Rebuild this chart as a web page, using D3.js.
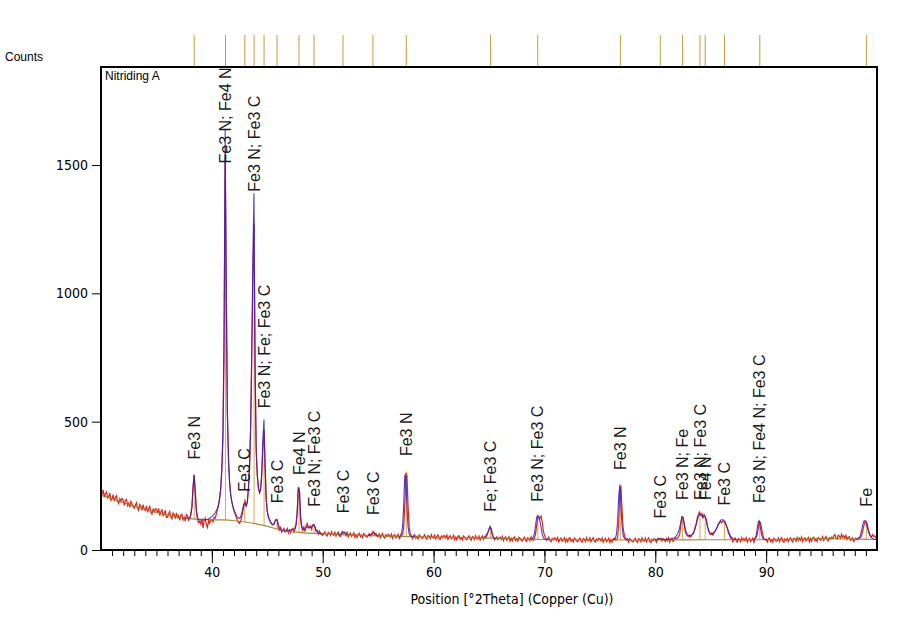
<!DOCTYPE html>
<html><head><meta charset="utf-8">
<script src="https://cdn.jsdelivr.net/npm/d3@7"></script>
<style>body{margin:0;background:#fff}</style>
</head><body><svg id="c" width="921" height="642"></svg>
<script>
// ---------------- DATA ----------------
const xStart = 30, xStep = 0.1;
// Observed counts, 30.0 .. 100.0 in 0.1 deg steps
const observed = [
234,217,234,205,220,226,203,209,222,193,
199,216,190,205,212,189,181,200,189,201,
194,174,194,197,173,183,166,189,180,167,
163,175,184,164,154,177,171,154,177,159,
154,172,147,162,170,147,140,159,149,161,
160,144,162,134,149,156,134,141,155,127,
128,141,150,130,121,144,138,122,145,127,
134,115,136,140,117,128,112,138,134,116,
122,141,168,245,294,228,150,118,106,112,
101,122,86,113,124,99,88,115,104,119,
116,109,127,124,140,155,172,200,240,310,
430,760,1540,1000,540,370,265,215,188,168,
152,140,128,115,108,104,112,130,150,178,
190,170,185,240,320,480,760,1050,1270,700,
380,290,245,222,232,290,400,465,330,200,
150,128,120,110,104,98,100,112,120,118,
86,77,88,70,78,84,70,76,84,66,
78,67,80,84,70,80,100,150,240,230,
120,88,76,90,72,96,104,86,92,94,
80,98,100,90,74,77,62,74,66,60,
56,65,71,59,54,69,66,57,72,61,
57,69,54,64,70,56,52,68,72,66,
65,56,68,51,61,66,53,58,67,50,
60,49,62,65,51,58,48,64,59,52,
49,58,64,55,62,70,72,60,65,54,
51,63,48,58,64,50,46,59,53,61,
59,50,62,45,55,60,47,52,61,44,
49,58,60,85,170,300,290,170,90,62,
55,44,57,60,46,53,43,59,54,47,
44,53,59,47,42,57,54,45,60,49,
46,58,43,53,59,45,41,54,48,56,
55,46,58,41,51,56,43,48,57,40,
51,40,53,56,42,49,39,55,50,43,
40,49,55,43,38,53,50,41,56,45,
42,54,39,49,55,41,52,55,62,70,
80,90,84,64,50,39,46,51,40,47,
50,41,53,36,46,51,38,43,52,35,
46,35,48,51,37,44,34,50,45,38,
35,44,50,38,33,48,45,36,51,40,
38,47,62,95,125,130,122,132,110,75,
58,47,38,44,50,36,32,45,39,47,
46,37,49,32,42,47,34,39,48,31,
43,32,45,48,34,41,31,47,42,35,
32,41,47,35,30,45,42,33,48,37,
35,47,32,42,48,34,30,43,37,45,
44,35,47,30,40,45,32,37,46,29,
41,30,43,46,38,40,48,100,230,250,
160,85,60,46,39,44,31,45,40,33,
31,40,46,34,29,44,41,32,47,36,
34,46,31,41,47,33,29,42,36,44,
41,30,43,46,44,45,35,45,40,33,
45,36,48,31,41,46,33,38,47,44,
46,52,60,95,128,125,100,75,60,55,
52,58,50,60,62,72,90,104,128,140,
148,136,142,126,138,130,120,92,78,64,
60,67,58,70,74,82,88,102,104,112,
106,113,110,108,94,84,66,58,46,48,
32,41,47,35,30,45,42,33,48,37,
45,36,48,31,41,46,33,38,47,30,
43,50,60,85,112,105,80,58,44,41,
42,31,44,47,33,40,30,46,41,34,
35,47,32,42,48,34,30,43,37,45,
33,42,48,36,31,46,43,34,49,38,
47,38,50,33,43,48,35,40,49,32,
45,34,47,50,36,43,33,49,44,37,
40,52,37,47,53,39,35,48,42,50,
45,54,60,48,43,58,55,46,61,50,
56,47,57,41,49,52,38,41,48,33,
39,47,40,44,49,48,55,70,92,108,
112,104,85,68,55,50,60,52,56,47,
46
];

// Calculated profile segments (start angle, values every 0.1 deg)
const calcStarts = [37.6, 51.4, 54.1, 56.9, 64.6, 68.8, 76.2, 80.0, 88.8, 98.2];
const calcValues = [
 [126,125,124,124,
  126,135,165,240,292,235,160,128,119,117,
  117,117,117,118,118,119,120,122,124,127,
  130,134,139,145,153,163,178,200,240,320,
  470,850,1640,1050,520,340,260,215,188,170,
  156,145,136,128,124,124,130,145,165,180,
  178,172,190,240,330,480,780,1150,1390,720,
  400,290,240,225,240,300,430,508,340,200,
  150,128,115,106,100,98,102,112,118,114,
  100,88,80,77,75,74,74,74,75,76,
  77,78,79,80,82,86,100,150,245,235,
  140,95,82,80,82,88,92,88,86,88,
  90,95,98,90,78,71,67,65,64,63,
  63],
 [60,60,61,63,66,69,70,67,63,60],
 [56,57,59,62,65,66,63,59,57,56],
 [52,55,65,88,170,290,285,165,90,62,55,53,52,51,51],
 [46,48,54,66,82,92,78,58,48,45,44,44],
 [42,44,50,65,95,128,135,125,112,88,62,48,43,42,41,41,40],
 [40,42,46,62,110,210,255,175,95,58,46,42,41,40,40],
 [39,40,41,42,43,43,42,41,41,41,
  41,41,42,42,43,44,45,47,50,55,
  62,72,88,108,130,128,108,84,68,60,
  56,55,56,59,64,72,84,100,118,132,
  140,138,132,128,132,130,115,95,78,68,
  63,62,64,68,74,82,92,102,110,116,
  118,118,115,108,98,86,74,62,53,47,
  44,42,41,41,40,40],
 [41,42,46,58,85,112,108,82,58,46,42,41,40,40],
 [42,44,48,58,75,95,112,115,108,92,75,62,54,48,45,43,42,41,40]
];

// Background curve points [2Theta, counts]
const bgTheta  = [30, 32, 34, 36, 38, 39, 40, 41, 42, 43, 44, 45, 46, 47, 48, 50, 52, 55, 60, 65, 70, 75, 80, 85, 90, 95, 100];
const bgCounts = [214,185,158,136,122,119,118,117,114,109,102, 92, 80, 72, 68, 63, 59, 55, 50, 46, 41, 39, 39, 40, 40, 44, 41];

// Reference peak positions, phase labels, stick heights and label levels
const refPos = [38.41, 41.23, 42.97, 43.81, 44.71, 45.88, 47.86, 49.22, 51.83, 54.53, 57.54,
                65.14, 69.40, 76.85, 80.45, 82.46, 84.03, 84.50, 86.24, 89.43, 99.04];
const refLabels = ["Fe3 N", "Fe3 N; Fe4 N", "Fe3 C", "Fe3 N; Fe3 C", "Fe3 N; Fe; Fe3 C", "Fe3 C",
                   "Fe4 N", "Fe3 N; Fe3 C", "Fe3 C", "Fe3 C", "Fe3 N", "Fe; Fe3 C", "Fe3 N; Fe3 C",
                   "Fe3 N", "Fe3 C", "Fe3 N; Fe", "Fe3 N; Fe3 C", "Fe4 N", "Fe3 C",
                   "Fe3 N; Fe4 N; Fe3 C", "Fe"];
const stickCounts = [280, 1560, 200, 1285, 467, 115, 245, 95, 66, 64, 305,
                     88, 130, 250, 45, 130, 140, 128, 112, 112, 112];
const labelCounts = [353, 1506, 227, 1396, 552, 182, 292, 169, 143, 136, 366,
                     149, 188, 312, 123, 195, 195, 195, 173, 183, 169];

const xTickMajor = [40, 50, 60, 70, 80, 90];
const yTickValues = [0, 500, 1000, 1500];
const xTitle = "Position [°2Theta] (Copper (Cu))";
const yTitle = "Counts";
const sampleName = "Nitriding A";

// ---------------- CHART ----------------
const svg = d3.select("#c");
const L = 101, R = 877, T = 67, B = 550;
const x = d3.scaleLinear().domain([30, 100]).range([L, R]);
const y = d3.scaleLinear().domain([0, 1882]).range([B, T]);
const numFont = "'Liberation Sans Narrow','Arial Narrow','DejaVu Sans Condensed',sans-serif";
const txtFont = "'Liberation Sans',Arial,sans-serif";

svg.append("rect").attr("width", 921).attr("height", 642).attr("fill", "#fff");

const obsPts = observed.map((v, i) => [xStart + i * xStep, v]);
const line = d3.line().x(d => x(d[0])).y(d => y(d[1]));

const bgInterp = t => {
  const i = d3.bisectRight(bgTheta, t) - 1;
  const j = Math.min(i + 1, bgTheta.length - 1);
  const f = j === i ? 0 : (t - bgTheta[i]) / (bgTheta[j] - bgTheta[i]);
  return bgCounts[i] + f * (bgCounts[j] - bgCounts[i]);
};

// sticks in plot
svg.append("g").selectAll("line").data(refPos).join("line")
  .attr("x1", d => x(d)).attr("x2", d => x(d))
  .attr("y1", d => y(bgInterp(d))).attr("y2", (d, i) => y(stickCounts[i]))
  .attr("stroke", "#e0a850").attr("stroke-width", 1);

// observed
svg.append("path").datum(obsPts).attr("d", line)
  .attr("fill", "none").attr("stroke", "#e0261a").attr("stroke-width", 1.2);

// background (drawn over the noisy data)
svg.append("path")
  .datum(bgTheta.map((t, i) => [t, bgCounts[i]]))
  .attr("d", d3.line().x(d => x(d[0])).y(d => y(d[1])).curve(d3.curveMonotoneX))
  .attr("fill", "none").attr("stroke", "#9c7a30").attr("stroke-width", 1.2)
  .attr("stroke-opacity", 0.9);

// calculated
calcStarts.forEach((s, k) => {
  const pts = calcValues[k].map((v, i) => [s + i * xStep, v]);
  svg.append("path").datum(pts).attr("d", line)
    .attr("fill", "none").attr("stroke", "#3a1cb8").attr("stroke-width", 1.1)
    .attr("stroke-opacity", 0.85);
});

// top reference sticks
svg.append("g").selectAll("line").data(refPos).join("line")
  .attr("x1", d => x(d)).attr("x2", d => x(d))
  .attr("y1", 35).attr("y2", T)
  .attr("stroke", "#c99a3a").attr("stroke-width", 1);

// peak labels
svg.append("g").selectAll("text").data(refPos).join("text")
  .attr("transform", (d, i) => `translate(${x(d)},${y(labelCounts[i])}) rotate(-90)`)
  .attr("dy", "0.35em")
  .attr("font-family", txtFont).attr("font-size", 16).attr("fill", "#1a1a1a")
  .text((d, i) => refLabels[i]);

// frame
svg.append("rect").attr("x", L).attr("y", T).attr("width", R - L).attr("height", B - T)
  .attr("fill", "none").attr("stroke", "#000").attr("stroke-width", 2);

// x axis minor
const gxm = svg.append("g").attr("transform", `translate(0,${B})`)
  .call(d3.axisBottom(x).tickValues(d3.range(31, 100)).tickSize(6).tickFormat(""));
gxm.select(".domain").remove();
gxm.selectAll("line").attr("stroke", "#000");
// x axis major
const gx = svg.append("g").attr("transform", `translate(0,${B})`)
  .call(d3.axisBottom(x).tickValues(xTickMajor).tickSize(13).tickPadding(4).tickFormat(d3.format("d")));
gx.select(".domain").remove();
gx.selectAll("line").attr("stroke", "#000");
gx.selectAll("text").attr("font-family", numFont).attr("font-size", 14).attr("fill", "#000");

// y axis
const gy = svg.append("g").attr("transform", `translate(${L},0)`)
  .call(d3.axisLeft(y).tickValues(yTickValues).tickSize(9).tickPadding(4).tickFormat(d3.format("d")));
gy.select(".domain").remove();
gy.selectAll("line").attr("stroke", "#000");
gy.selectAll("text").attr("font-family", numFont).attr("font-size", 14).attr("fill", "#000");

// titles
svg.append("text").attr("x", 512).attr("y", 604).attr("text-anchor", "middle")
  .attr("font-family", numFont).attr("font-size", 14).text(xTitle);
svg.append("text").attr("x", 5).attr("y", 61)
  .attr("font-family", txtFont).attr("font-size", 12).text(yTitle);
svg.append("text").attr("x", 105).attr("y", 80)
  .attr("font-family", txtFont).attr("font-size", 12).text(sampleName);
</script></body></html>
